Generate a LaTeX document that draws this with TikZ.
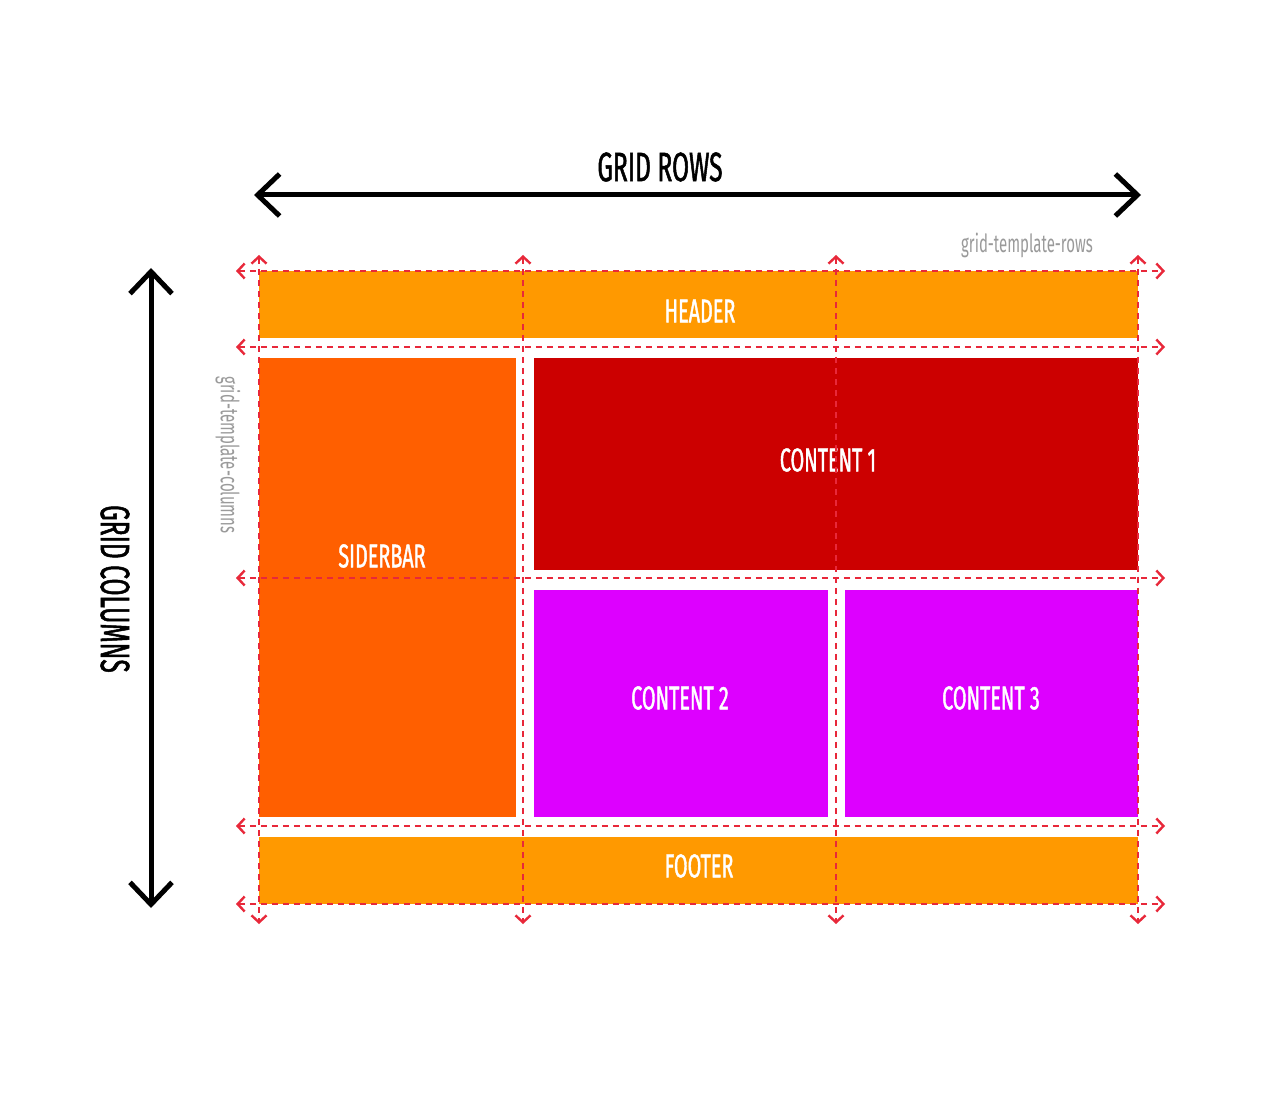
\documentclass[tikz,border=0pt]{standalone}
\usepackage{fontspec}
\newfontfamily\handfont[FakeStretch=0.6,FakeBold=1.2]{Fira Sans}
\newfontfamily\handlight[FakeStretch=0.6]{Fira Sans}
\usetikzlibrary{arrows.meta}
\definecolor{hdr}{HTML}{FF9900}
\definecolor{side}{HTML}{FF5F00}
\definecolor{cone}{HTML}{CC0000}
\definecolor{cpur}{HTML}{DD00FF}
\definecolor{gline}{HTML}{E8283A}
\definecolor{glabel}{HTML}{9A9A9A}
\begin{document}
\begin{tikzpicture}[x=1pt,y=-1pt,
  block/.style={fill=#1, inner sep=0pt, draw=none},
  blabel/.style={text=white, inner sep=0pt, font=\handfont\fontsize{33}{33}\selectfont},
  biglabel/.style={text=black, inner sep=0pt, font=\handfont\fontsize{41}{41}\selectfont},
  glab/.style={text=glabel, inner sep=0pt, font=\handlight\fontsize{25}{25}\selectfont},
  gridline/.style={draw=gline, line width=2.4pt, dash pattern=on 6pt off 5pt,
    {Straight Barb[length=7pt,width=15pt]}-{Straight Barb[length=7pt,width=15pt]}},
  bigarrow/.style={line width=5pt, {Straight Barb[length=22pt,width=42pt]}-{Straight Barb[length=22pt,width=42pt]}}
]
\useasboundingbox (0,0) rectangle (1280,1102);
\fill[white] (0,0) rectangle (1280,1102);

% blocks
\node[block=hdr, minimum width=879pt, minimum height=67pt] (header) at (698.5,304.5) {};
\node[block=side, minimum width=257pt, minimum height=459pt] (sidebar) at (387.5,587.5) {};
\node[block=cone, minimum width=604pt, minimum height=212pt] (content1) at (836,464) {};
\node[block=cpur, minimum width=294pt, minimum height=227pt] (content2) at (681,703.5) {};
\node[block=cpur, minimum width=293pt, minimum height=227pt] (content3) at (991.5,703.5) {};
\node[block=hdr, minimum width=879pt, minimum height=67pt] (footer) at (698.5,870.5) {};

% block labels
\node[blabel] (lheader) at (700,311) {HEADER};
\node[blabel] (lsidebar) at (382,556) {SIDERBAR};
\node[blabel] (lcontent1) at (828,460) {CONTENT 1};
\node[blabel] (lcontent2) at (680,698) {CONTENT 2};
\node[blabel] (lcontent3) at (991,698) {CONTENT 3};
\node[blabel] (lfooter) at (699,866) {FOOTER};

% grid lines
\foreach \yy/\nm in {271/a,347/b,578/c,826/d,904/e}{
  \coordinate (hl\nm) at (236,\yy);
  \coordinate (hr\nm) at (1165,\yy);
  \draw[gridline] (hl\nm) -- (hr\nm);
}
\foreach \xx/\nm in {259/a,523/b,836/c,1138/d}{
  \coordinate (vt\nm) at (\xx,255);
  \coordinate (vb\nm) at (\xx,924);
  \draw[gridline] (vt\nm) -- (vb\nm);
}

% big arrows
\coordinate (rowL) at (254,195);
\coordinate (rowR) at (1141,195);
\draw[bigarrow] (rowL) -- (rowR);
\node[biglabel] (rowlabel) at (660,167) {GRID ROWS};

\coordinate (colT) at (151,268);
\coordinate (colB) at (151,908);
\draw[bigarrow] (colT) -- (colB);
\node[biglabel, rotate=-90] (collabel) at (115,589) {GRID COLUMNS};

% gray labels
\node[glab] (rowstpl) at (1027,245) {grid-template-rows};
\node[glab, rotate=-90] (colstpl) at (228,455) {grid-template-columns};
\end{tikzpicture}
\end{document}
